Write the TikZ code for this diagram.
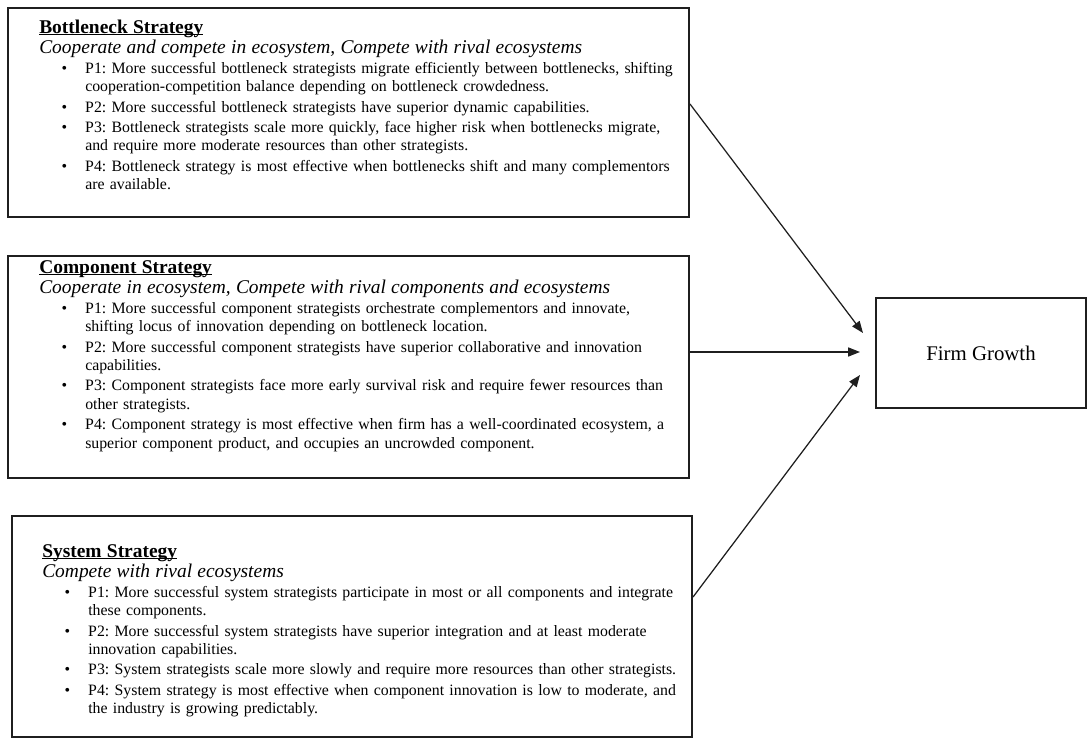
\documentclass[tikz,border=0pt]{standalone}
\usepackage{fontspec}
\setmainfont{Liberation Serif}
\usetikzlibrary{arrows.meta,fit}
\newsavebox\ulbox
\newcommand\myul[1]{\sbox\ulbox{#1}\rlap{\rule[-1.7pt]{\wd\ulbox}{0.75pt}}\usebox\ulbox}
\newcommand\boxtitle[1]{{\fontsize{14}{13.39}\selectfont\bfseries\myul{#1}\par}}
\newcommand\boxsub[1]{{\fontsize{14}{13.39}\selectfont\itshape #1\par}}
\newcommand\pitem[1]{{\leftskip=33.1pt\noindent\llap{\textbullet\hspace{13.1pt}}#1\par}}
\tikzset{
  box/.style={draw=black!88, line width=1.44pt, inner sep=0pt},
  txt/.style={anchor=base west, inner sep=0pt, text width=500pt,
    font=\fontsize{11.4}{13.39}\selectfont,
    execute at begin node={\frenchspacing\setlength\parindent{0pt}\setlength\parskip{1.15pt}\lineskiplimit=-20pt}},
  arr/.style={line width=0.9pt, draw=black!88, -{Triangle[length=8.5pt,width=6.5pt]}}
}
\begin{document}
\begin{tikzpicture}[x=0.72pt,y=-0.72pt]
\useasboundingbox (0,0) rectangle (1087,740);
% boxes
\node[box, fit={(8,8)(689,217)}] (b1) {};
\node[box, fit={(8,256)(689,478)}] (b2) {};
\node[box, fit={(12,516)(692,737)}] (b3) {};
\node[box, fit={(876,298)(1086,408)}] (fg) {};
\node[font=\fontsize{15}{18}\selectfont] (fgt) at (fg.center) {Firm Growth};
% texts
\node[txt] (b1t) at (39,33) {%
\boxtitle{Bottleneck Strategy}
\boxsub{Cooperate and compete in ecosystem, Compete with rival ecosystems}
\pitem{P1: More successful bottleneck strategists migrate efficiently between bottlenecks, shifting\newline cooperation-competition balance depending on bottleneck crowdedness.}
\pitem{P2: More successful bottleneck strategists have superior dynamic capabilities.}
\pitem{P3: Bottleneck strategists scale more quickly, face higher risk when bottlenecks migrate,\newline and require more moderate resources than other strategists.}
\pitem{P4: Bottleneck strategy is most effective when bottlenecks shift and many complementors\newline are available.}};
\node[txt] (b2t) at (39,273) {%
\boxtitle{Component Strategy}
\boxsub{Cooperate in ecosystem, Compete with rival components and ecosystems}
\pitem{P1: More successful component strategists orchestrate complementors and innovate,\newline shifting locus of innovation depending on bottleneck location.}
\pitem{P2: More successful component strategists have superior collaborative and innovation\newline capabilities.}
\pitem{P3: Component strategists face more early survival risk and require fewer resources than\newline other strategists.}
\pitem{P4: Component strategy is most effective when firm has a well-coordinated ecosystem, a\newline superior component product, and occupies an uncrowded component.}};
\node[txt] (b3t) at (42,557) {%
\boxtitle{System Strategy}
\boxsub{Compete with rival ecosystems}
\pitem{P1: More successful system strategists participate in most or all components and integrate\newline these components.}
\pitem{P2: More successful system strategists have superior integration and at least moderate\newline innovation capabilities.}
\pitem{P3: System strategists scale more slowly and require more resources than other strategists.}
\pitem{P4: System strategy is most effective when component innovation is low to moderate, and\newline the industry is growing predictably.}};
% arrow tips
\coordinate (t1) at (863,333);
\coordinate (t2) at (860,352);
\coordinate (t3) at (860,375);
\draw[arr] ([yshift=6.1pt]b1.east) -- (t1);
\draw[arr] (b2.east |- t2) -- (t2);
\draw[arr] ([yshift=21.2pt]b3.east) -- (t3);
\end{tikzpicture}
\end{document}
